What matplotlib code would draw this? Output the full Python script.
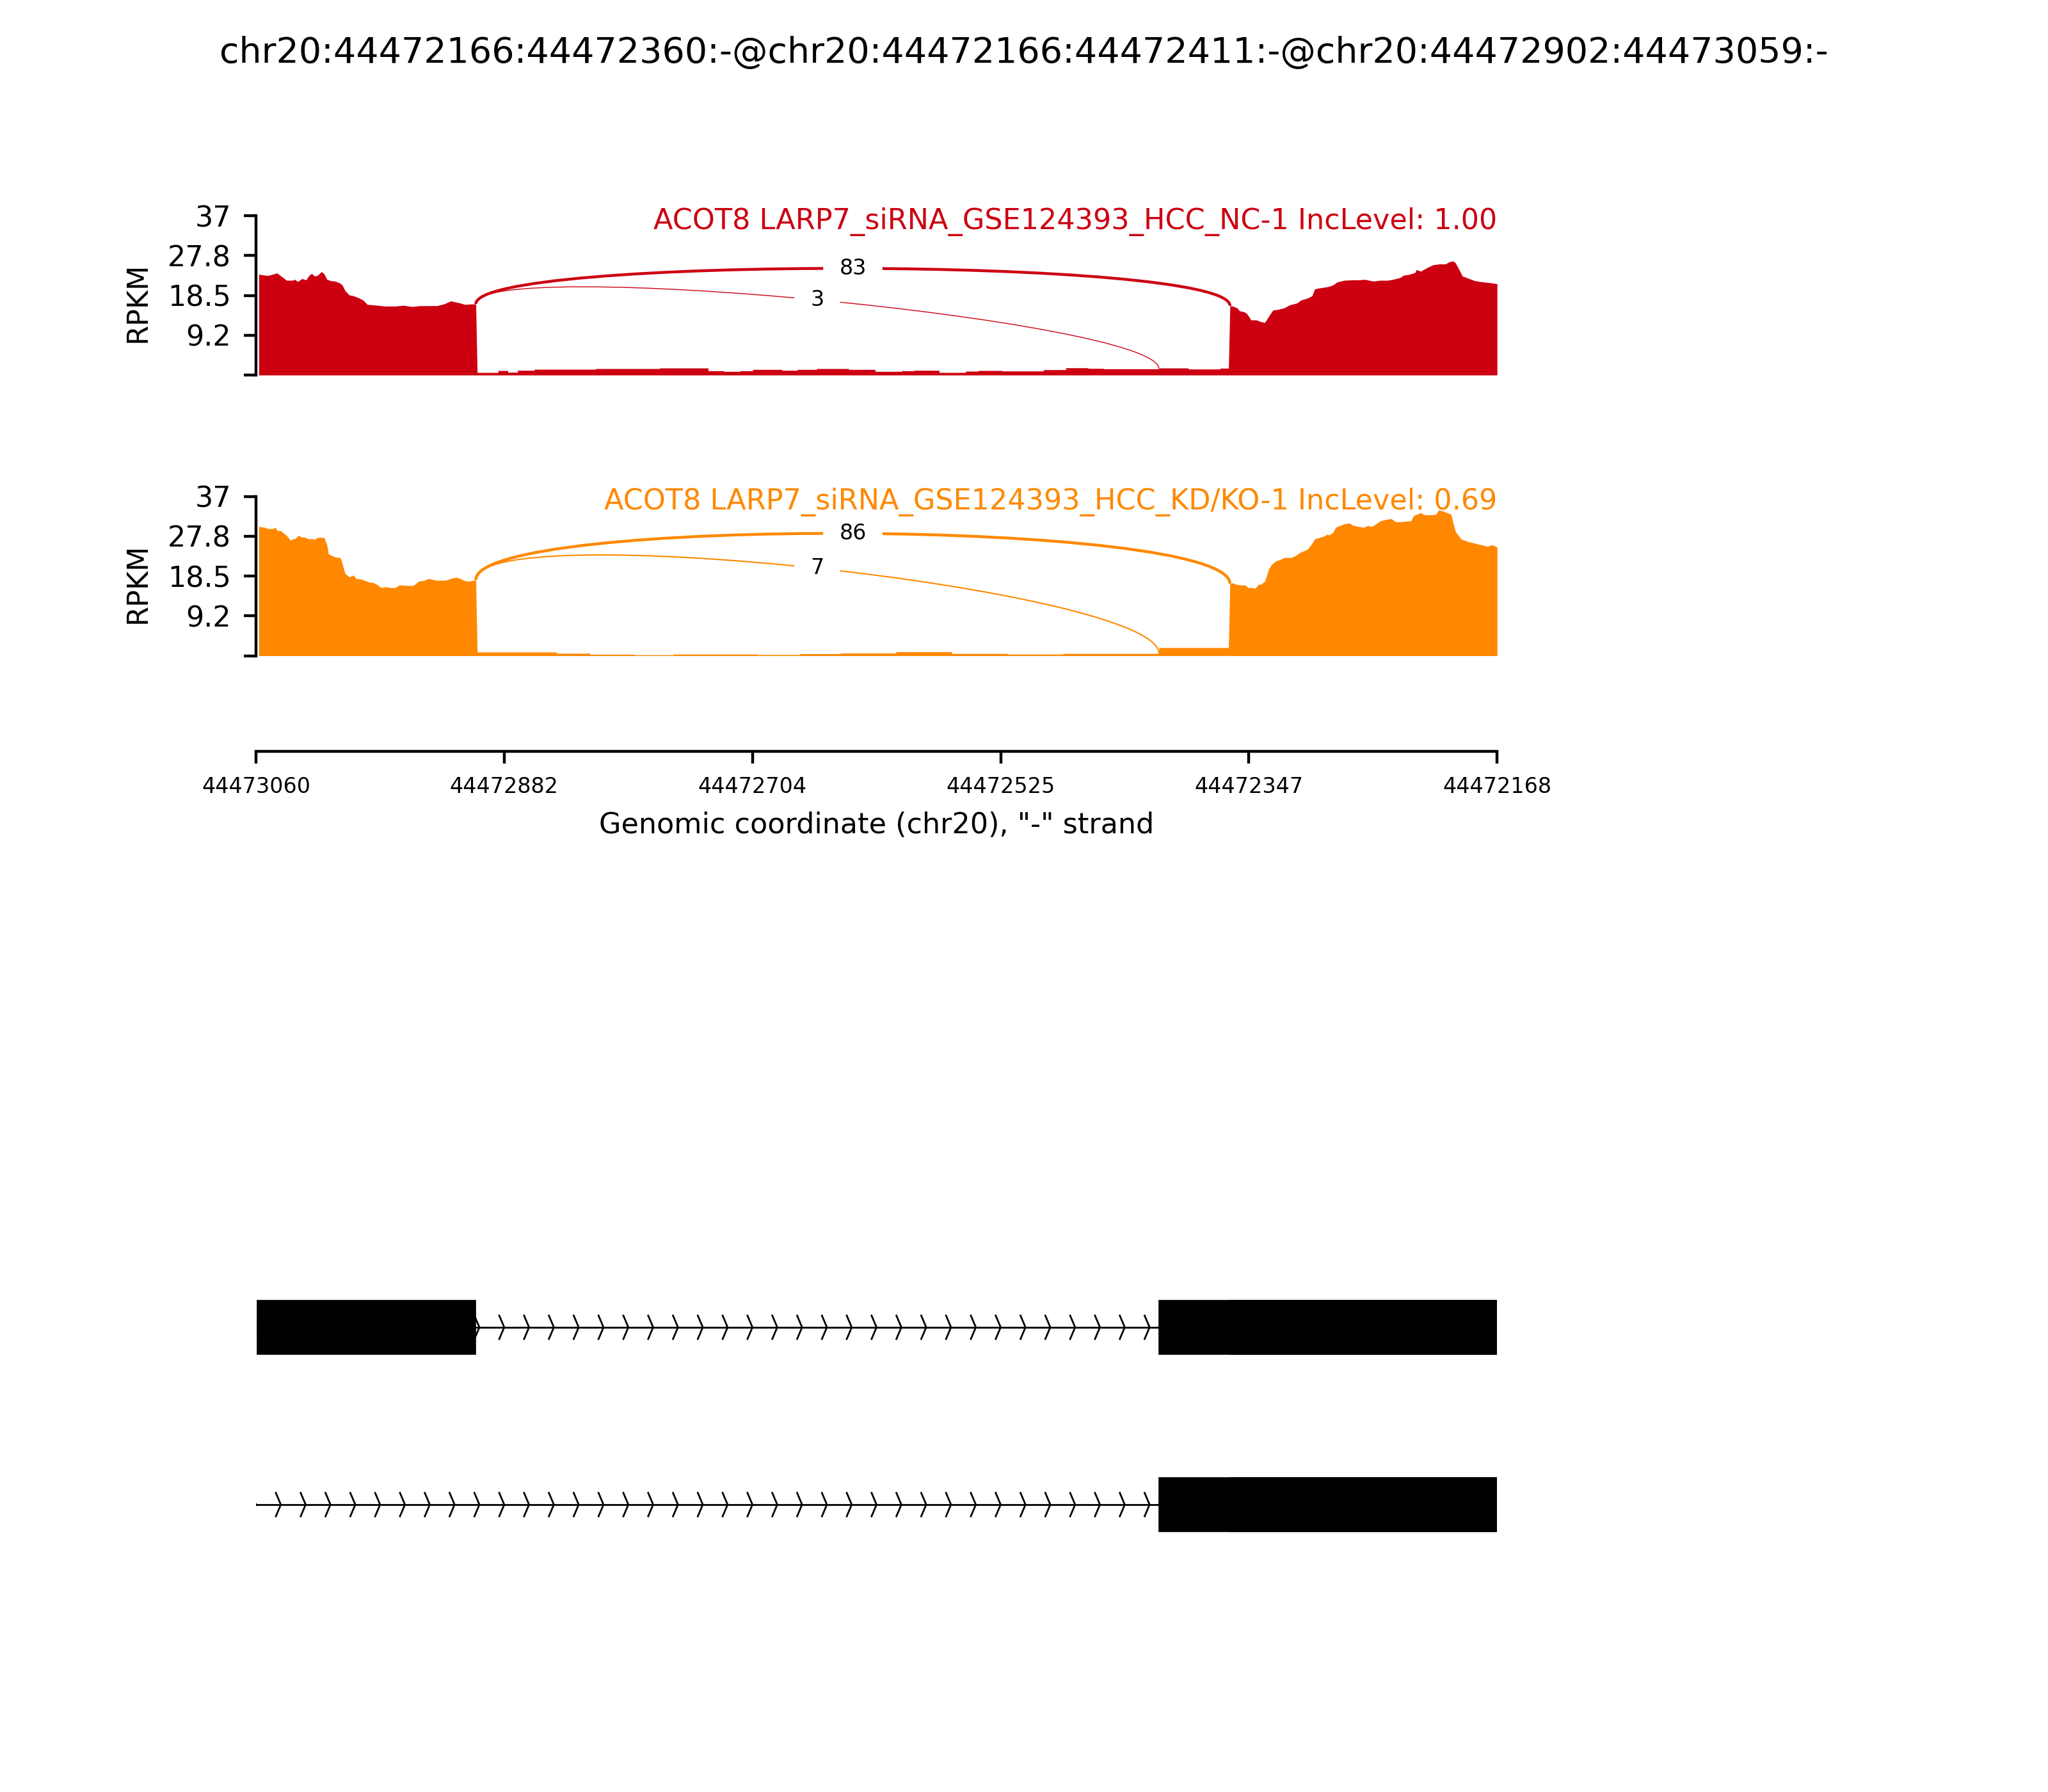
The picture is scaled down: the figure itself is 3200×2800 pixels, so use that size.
"""Sashimi plot: ACOT8 alternative splice site event, LARP7 siRNA (NC vs KD/KO)."""

import matplotlib

matplotlib.use("Agg")
import matplotlib.pyplot as plt
import numpy as np
from matplotlib.patches import PathPatch, Rectangle
from matplotlib.path import Path

TITLE = "chr20:44472166:44472360:-@chr20:44472166:44472411:-@chr20:44472902:44473059:-"
X_LEFT, X_RIGHT = 44473060, 44472168
XTICK_LABELS = ["44473060", "44472882", "44472704", "44472525", "44472347", "44472168"]
YTICKS = [0, 9.25, 18.5, 27.75, 37]
YTICK_LABELS = ["", "9.2", "18.5", "27.8", "37"]
XLABEL = 'Genomic coordinate (chr20), "-" strand'

SAMPLE_LABELS = [
    "ACOT8 LARP7_siRNA_GSE124393_HCC_NC-1 IncLevel: 1.00",
    "ACOT8 LARP7_siRNA_GSE124393_HCC_KD/KO-1 IncLevel: 0.69",
]
COLORS = ["#CC0011", "#FF8800"]

# --- NC-1 coverage (RPKM) ---
nc_up_pos = [44473058, 44473052, 44473049, 44473045, 44473042, 44473038, 44473034, 44473032, 44473030, 44473027,
             44473024, 44473022, 44473020, 44473018, 44473016, 44473013, 44473011, 44473009, 44473006, 44473003,
             44473000, 44472998, 44472996, 44472993, 44472990, 44472986, 44472983, 44472980, 44472973, 44472967,
             44472960, 44472954, 44472948, 44472942, 44472936, 44472930, 44472925, 44472920, 44472917, 44472913,
             44472910, 44472905, 44472902]
nc_up_rpkm = [23.4, 23.1, 23.3, 23.7, 23.0, 22.0, 22.0, 22.2, 21.7, 22.4,
              22.1, 23.1, 23.6, 23.0, 23.1, 24.0, 23.5, 22.2, 21.9, 21.8,
              21.4, 20.9, 19.6, 18.6, 18.4, 17.9, 17.4, 16.4, 16.2, 16.0,
              16.0, 16.2, 15.9, 16.1, 16.1, 16.1, 16.5, 17.2, 17.0, 16.7,
              16.4, 16.5, 16.5]
nc_in_start = [44472901, 44472886, 44472879, 44472872, 44472860, 44472816, 44472770, 44472735, 44472724, 44472712,
               44472703, 44472682, 44472671, 44472657, 44472634, 44472615, 44472596, 44472587, 44472569, 44472550,
               44472541, 44472524, 44472494, 44472478, 44472462, 44472451, 44472411, 44472390, 44472367]
nc_in_rpkm = [0.59, 1.04, 0.64, 1.09, 1.34, 1.49, 1.63, 0.99, 0.84, 0.99,
              1.29, 1.09, 1.29, 1.49, 1.29, 0.84, 0.99, 1.09, 0.59, 0.89,
              1.04, 0.94, 1.24, 1.68, 1.54, 1.44, 1.63, 1.39, 1.59]
nc_dn_pos = [44472360, 44472358, 44472355, 44472353, 44472350, 44472348, 44472346, 44472345, 44472341, 44472338,
             44472335, 44472333, 44472331, 44472329, 44472326, 44472321, 44472317, 44472312, 44472309, 44472304,
             44472301, 44472299, 44472296, 44472290, 44472286, 44472283, 44472278, 44472272, 44472269, 44472263,
             44472257, 44472252, 44472247, 44472243, 44472238, 44472235, 44472232, 44472227, 44472226, 44472223,
             44472218, 44472214, 44472209, 44472205, 44472203, 44472200, 44472198, 44472195, 44472193, 44472189,
             44472184, 44472180, 44472175, 44472172, 44472168]
nc_dn_rpkm = [16.1, 16.0, 15.6, 14.9, 14.7, 14.3, 13.4, 12.8, 12.8, 12.4,
              12.2, 13.2, 14.2, 15.1, 15.2, 15.6, 16.3, 16.7, 17.4, 17.9,
              18.4, 20.0, 20.2, 20.5, 20.9, 21.6, 22.0, 22.1, 22.1, 22.2,
              21.8, 22.0, 22.0, 22.2, 22.6, 23.2, 23.3, 23.8, 24.5, 24.1,
              25.0, 25.6, 25.8, 25.8, 26.2, 26.5, 26.1, 24.3, 23.0, 22.5,
              21.9, 21.7, 21.5, 21.4, 21.2]

# --- KD/KO-1 coverage (RPKM) ---
kd_up_pos = [44473058, 44473054, 44473051, 44473048, 44473046, 44473045, 44473042, 44473040, 44473038, 44473035,
             44473034, 44473032, 44473029, 44473028, 44473025, 44473022, 44473020, 44473018, 44473016, 44473014,
             44473011, 44473009, 44473008, 44473006, 44473003, 44473000, 44472999, 44472997, 44472996, 44472993,
             44472990, 44472988, 44472985, 44472982, 44472979, 44472976, 44472973, 44472970, 44472967, 44472963,
             44472960, 44472957, 44472951, 44472947, 44472943, 44472939, 44472936, 44472933, 44472930, 44472924,
             44472919, 44472916, 44472913, 44472910, 44472907, 44472902]
kd_up_rpkm = [30.0, 29.8, 29.5, 29.5, 29.8, 29.1, 29.0, 28.4, 27.9, 26.7,
              27.1, 27.2, 28.0, 27.6, 27.5, 27.1, 27.2, 27.0, 27.4, 27.5,
              27.4, 25.7, 23.7, 23.3, 22.9, 22.8, 22.5, 20.2, 19.1, 18.3,
              18.7, 17.9, 17.8, 17.5, 17.1, 17.0, 16.5, 15.8, 16.0, 15.8,
              15.8, 16.4, 16.3, 16.3, 17.3, 17.5, 17.9, 17.7, 17.5, 17.5,
              18.0, 18.2, 17.9, 17.4, 17.3, 17.6]
kd_in_start = [44472901, 44472844, 44472820, 44472788, 44472760, 44472700, 44472669, 44472640, 44472600, 44472560,
               44472520, 44472480, 44472411]
kd_in_rpkm = [0.84, 0.55, 0.3, 0.2, 0.35, 0.25, 0.45, 0.6, 0.9, 0.5,
              0.35, 0.5, 1.87]
kd_dn_pos = [44472360, 44472358, 44472355, 44472352, 44472349, 44472347, 44472344, 44472342, 44472339, 44472338,
             44472335, 44472334, 44472332, 44472330, 44472327, 44472324, 44472321, 44472316, 44472313, 44472310,
             44472307, 44472304, 44472301, 44472299, 44472296, 44472293, 44472290, 44472289, 44472286, 44472284,
             44472282, 44472278, 44472274, 44472272, 44472269, 44472264, 44472261, 44472258, 44472255, 44472252,
             44472247, 44472244, 44472241, 44472238, 44472235, 44472230, 44472228, 44472226, 44472223, 44472220,
             44472217, 44472212, 44472210, 44472207, 44472204, 44472201, 44472200, 44472198, 44472194, 44472189,
             44472184, 44472180, 44472175, 44472172, 44472171, 44472168]
kd_dn_rpkm = [16.7, 16.9, 16.5, 16.4, 16.4, 15.8, 15.8, 15.6, 16.7, 16.5,
              17.3, 18.2, 20.2, 21.2, 22.0, 22.3, 22.8, 22.8, 23.2, 23.9,
              24.3, 24.8, 26.1, 27.1, 27.4, 27.7, 28.2, 28.0, 28.6, 29.8,
              30.1, 30.6, 30.8, 30.3, 30.1, 29.8, 30.2, 30.0, 30.6, 31.3,
              31.7, 31.8, 31.1, 31.1, 31.2, 31.3, 32.5, 32.8, 33.2, 32.7,
              32.7, 32.8, 33.8, 33.6, 33.2, 32.8, 31.3, 28.9, 27.1, 26.5,
              26.1, 25.8, 25.4, 25.7, 25.7, 25.2]
INTRON_END = 44472361

# junctions: (donor, acceptor) and read counts per sample
JXN_DONOR = 44472902
JXN_ACCEPTORS = [44472360, 44472411]
nc_jxn_counts = [83, 3]
kd_jxn_counts = [86, 7]
ARC_HEIGHT = [11.3, 15.0]

# gene model (transcript exons)
TX_EXONS = [
    [(44472902, 44473059), (44472166, 44472411), (44472166, 44472360)],
    [(44472166, 44472411), (44472166, 44472360)],
]
TX_SPAN = [(44473059, 44472166), (44473060, 44472166)]
N_ARROWS = 50


def build_coverage(up_pos, up_val, in_start, in_val, dn_pos, dn_val):
    edges = np.append(in_start, INTRON_END)
    step_x = np.repeat(edges, 2)[1:-1]
    step_y = np.repeat(in_val, 2)
    x = np.concatenate([up_pos, step_x, dn_pos]).astype(float)
    y = np.concatenate([up_val, step_y, dn_val]).astype(float)
    return x, y


def bezier_mid(pts):
    w = np.array([0.125, 0.375, 0.375, 0.125])
    p = np.array(pts)
    return (w[:, None] * p).sum(axis=0)


def plot_sample(ax, x, y, counts, label, color, arc_h):
    ax.fill_between(x, 0, y, color=color, lw=0)
    xs, ys = x[::-1], y[::-1]
    ld = np.interp(JXN_DONOR, xs, ys)
    for acc, n in zip(JXN_ACCEPTORS, counts):
        rd = np.interp(acc, xs, ys)
        pts = [(JXN_DONOR, ld), (JXN_DONOR, ld + arc_h), (acc, rd + arc_h), (acc, rd)]
        path = Path(pts, [Path.MOVETO, Path.CURVE4, Path.CURVE4, Path.CURVE4])
        ax.add_patch(PathPatch(path, ec=color, fc="none", lw=0.18 * np.log(n + 1)))
        mx, my = bezier_mid(pts)
        ax.text(mx, my, str(n), fontsize=6, ha="center", va="center", backgroundcolor="w")

    ax.set_xlim(X_LEFT, X_RIGHT)
    ax.set_ylim(0, YTICKS[-1])
    ax.set_yticks(YTICKS)
    ax.set_yticklabels(YTICK_LABELS, fontsize=8)
    ax.set_xticks([])
    for side in ("top", "right", "bottom"):
        ax.spines[side].set_visible(False)
    ax.set_ylabel("RPKM", fontsize=8)
    ax.yaxis.set_label_coords(-0.084, 0.455)
    ax.text(1.0, 0.918, label, transform=ax.transAxes, ha="right", va="baseline",
            color=color, fontsize=8)


fig = plt.figure(figsize=(8, 7), dpi=400)
fig.text(0.5, 0.965, TITLE, ha="center", va="baseline", fontsize=10)

LEFT, WIDTH = 0.125, 0.606
samples = [
    (build_coverage(nc_up_pos, nc_up_rpkm, nc_in_start, nc_in_rpkm, nc_dn_pos, nc_dn_rpkm), nc_jxn_counts),
    (build_coverage(kd_up_pos, kd_up_rpkm, kd_in_start, kd_in_rpkm, kd_dn_pos, kd_dn_rpkm), kd_jxn_counts),
]
for i, (bottom, ((cx, cy), counts)) in enumerate(zip([0.7907, 0.6341], samples)):
    ax = fig.add_axes([LEFT, bottom, WIDTH, 0.0889])
    plot_sample(ax, cx, cy, counts, SAMPLE_LABELS[i], COLORS[i], ARC_HEIGHT[i])

# genomic coordinate axis
ax_x = fig.add_axes([LEFT, 0.5807, WIDTH, 0.001])
ax_x.set_xlim(X_LEFT, X_RIGHT)
ax_x.set_xticks(np.linspace(X_LEFT, X_RIGHT, len(XTICK_LABELS)))
ax_x.set_xticklabels(XTICK_LABELS, fontsize=6)
ax_x.set_yticks([])
for side in ("top", "right", "left"):
    ax_x.spines[side].set_visible(False)
ax_x.set_xlabel(XLABEL, fontsize=8)

# gene model
ax_g = fig.add_axes([LEFT, 0.1109, WIDTH, 0.1979])
ax_g.set_xlim(X_LEFT, X_RIGHT)
ax_g.set_ylim(-1.5, 0.5)
ax_g.axis("off")
span = X_LEFT - X_RIGHT
spread = 0.2 * span / N_ARROWS
locs = X_LEFT - np.arange(N_ARROWS) * span / N_ARROWS
for row, (exons, (t0, t1)) in enumerate(zip(TX_EXONS, TX_SPAN)):
    yc = -row
    ax_g.plot([t0, t1], [yc, yc], color="k", lw=0.5, zorder=1)
    for loc in locs:
        if t1 <= loc <= t0:
            ax_g.plot([loc + spread, loc, loc + spread], [yc + 0.066, yc, yc - 0.066],
                      color="k", lw=0.5, zorder=1)
    for s, e in exons:
        ax_g.add_patch(Rectangle((s, yc - 0.151), e - s, 0.302, fc="k", ec="k", lw=0.3, zorder=2))

fig.savefig("out.png", dpi=400)
